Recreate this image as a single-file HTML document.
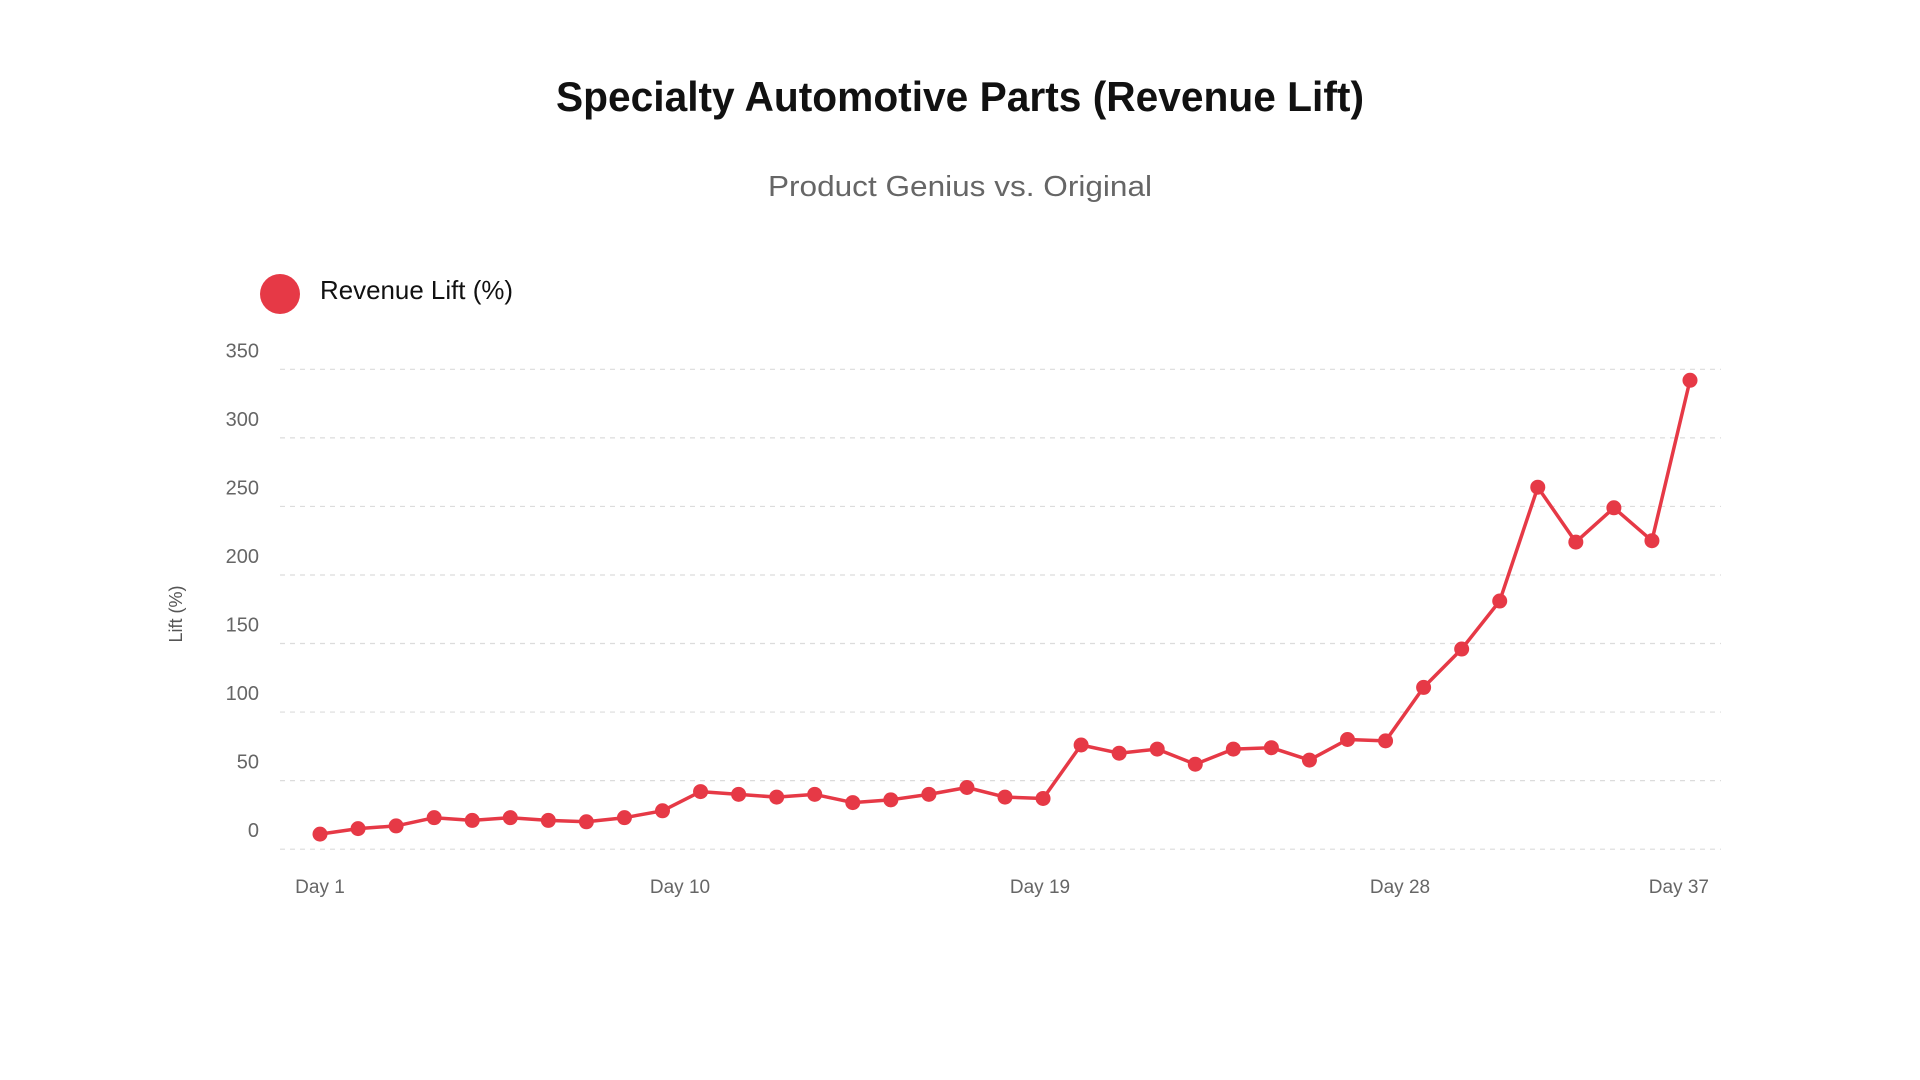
<!DOCTYPE html>
<html><head><meta charset="utf-8"><style>
html,body{margin:0;padding:0;background:#fff;}
svg{display:block;font-family:"Liberation Sans","DejaVu Sans",sans-serif;}
</style></head><body>
<svg id="chart" width="1920" height="1080" viewBox="0 0 1920 1080">
<text x="960" y="111" text-anchor="middle" font-size="42" font-weight="bold" fill="#111" textLength="808" lengthAdjust="spacingAndGlyphs">Specialty Automotive Parts (Revenue Lift)</text>
<text x="960" y="196" text-anchor="middle" font-size="29" fill="#666" textLength="384" lengthAdjust="spacingAndGlyphs">Product Genius vs. Original</text>
<g>
<circle cx="280" cy="294" r="20" fill="#e63946"></circle>
<text x="320" y="299" font-size="26" fill="#111" textLength="193" lengthAdjust="spacingAndGlyphs">Revenue Lift (%)</text>
</g>
<text x="0" y="0" transform="translate(182,614) rotate(-90)" text-anchor="middle" font-size="18" fill="#555">Lift (%)</text>
<g id="grid"></g>
<g id="yticks"></g>
<g id="xticks"></g>
<g id="series"></g>
</svg>
<script>
const days = ["Day 1","Day 2","Day 3","Day 4","Day 5","Day 6","Day 7","Day 8","Day 9","Day 10","Day 11","Day 12","Day 13","Day 14","Day 15","Day 16","Day 17","Day 18","Day 19","Day 20","Day 21","Day 22","Day 23","Day 24","Day 25","Day 26","Day 27","Day 28","Day 29","Day 30","Day 31","Day 32","Day 33","Day 34","Day 35","Day 36","Day 37"];
const liftValues = [11,15,17,23,21,23,21,20,23,28,42,40,38,40,34,36,40,45,38,37,76,70,73,62,73,74,65,80,79,118,146,181,264,224,249,225,342];
const yTicks = [0,50,100,150,200,250,300,350];
const xTickLabels = ["Day 1","Day 10","Day 19","Day 28","Day 37"];

const NS = "http://www.w3.org/2000/svg";
const X0 = 320, X1 = 1690, Y0 = 849.2, Y350 = 369.3;
function xScale(i){ return X0 + i * (X1 - X0) / (days.length - 1); }
function yScale(v){ return Y0 - v * (Y0 - Y350) / 350; }
function mk(tag, attrs){ const e = document.createElementNS(NS, tag); for (const k in attrs) e.setAttribute(k, attrs[k]); return e; }

const grid = document.getElementById('grid');
const yt = document.getElementById('yticks');
yTicks.forEach(t => {
  const y = yScale(t);
  const l = mk('line', {x1:280, x2:1721, y1:y, y2:y, stroke:'#dcdcdc', 'stroke-width':1.2, 'stroke-dasharray':'5,5'});
  
  
  grid.appendChild(l);
  const tx = mk('text', {x:259, y:y-12, 'text-anchor':'end', 'font-size':20, fill:'#666'});
  tx.textContent = t;
  
  
  yt.appendChild(tx);
});

const xt = document.getElementById('xticks');
xTickLabels.forEach((lab, k) => {
  const last = k === xTickLabels.length - 1;
  const x = last ? 1709 : X0 + k * 360;
  const tx = mk('text', {x:x, y:893, 'text-anchor': last ? 'end' : 'middle', 'font-size':19, fill:'#666'});
  tx.textContent = lab;
  
  
  xt.appendChild(tx);
});

const s = document.getElementById('series');
const pts = liftValues.map((v, i) => xScale(i).toFixed(1) + ',' + yScale(v).toFixed(1)).join(' ');
const line = mk('polyline', {points:pts, fill:'none', stroke:'#e63946', 'stroke-width':3.5, 'stroke-linejoin':'round'});


s.appendChild(line);
liftValues.forEach((v, i) => {
  const c = mk('circle', {cx:xScale(i), cy:yScale(v), r:7.5, fill:'#e63946'});
  
  
  s.appendChild(c);
});
</script>
</body></html>
